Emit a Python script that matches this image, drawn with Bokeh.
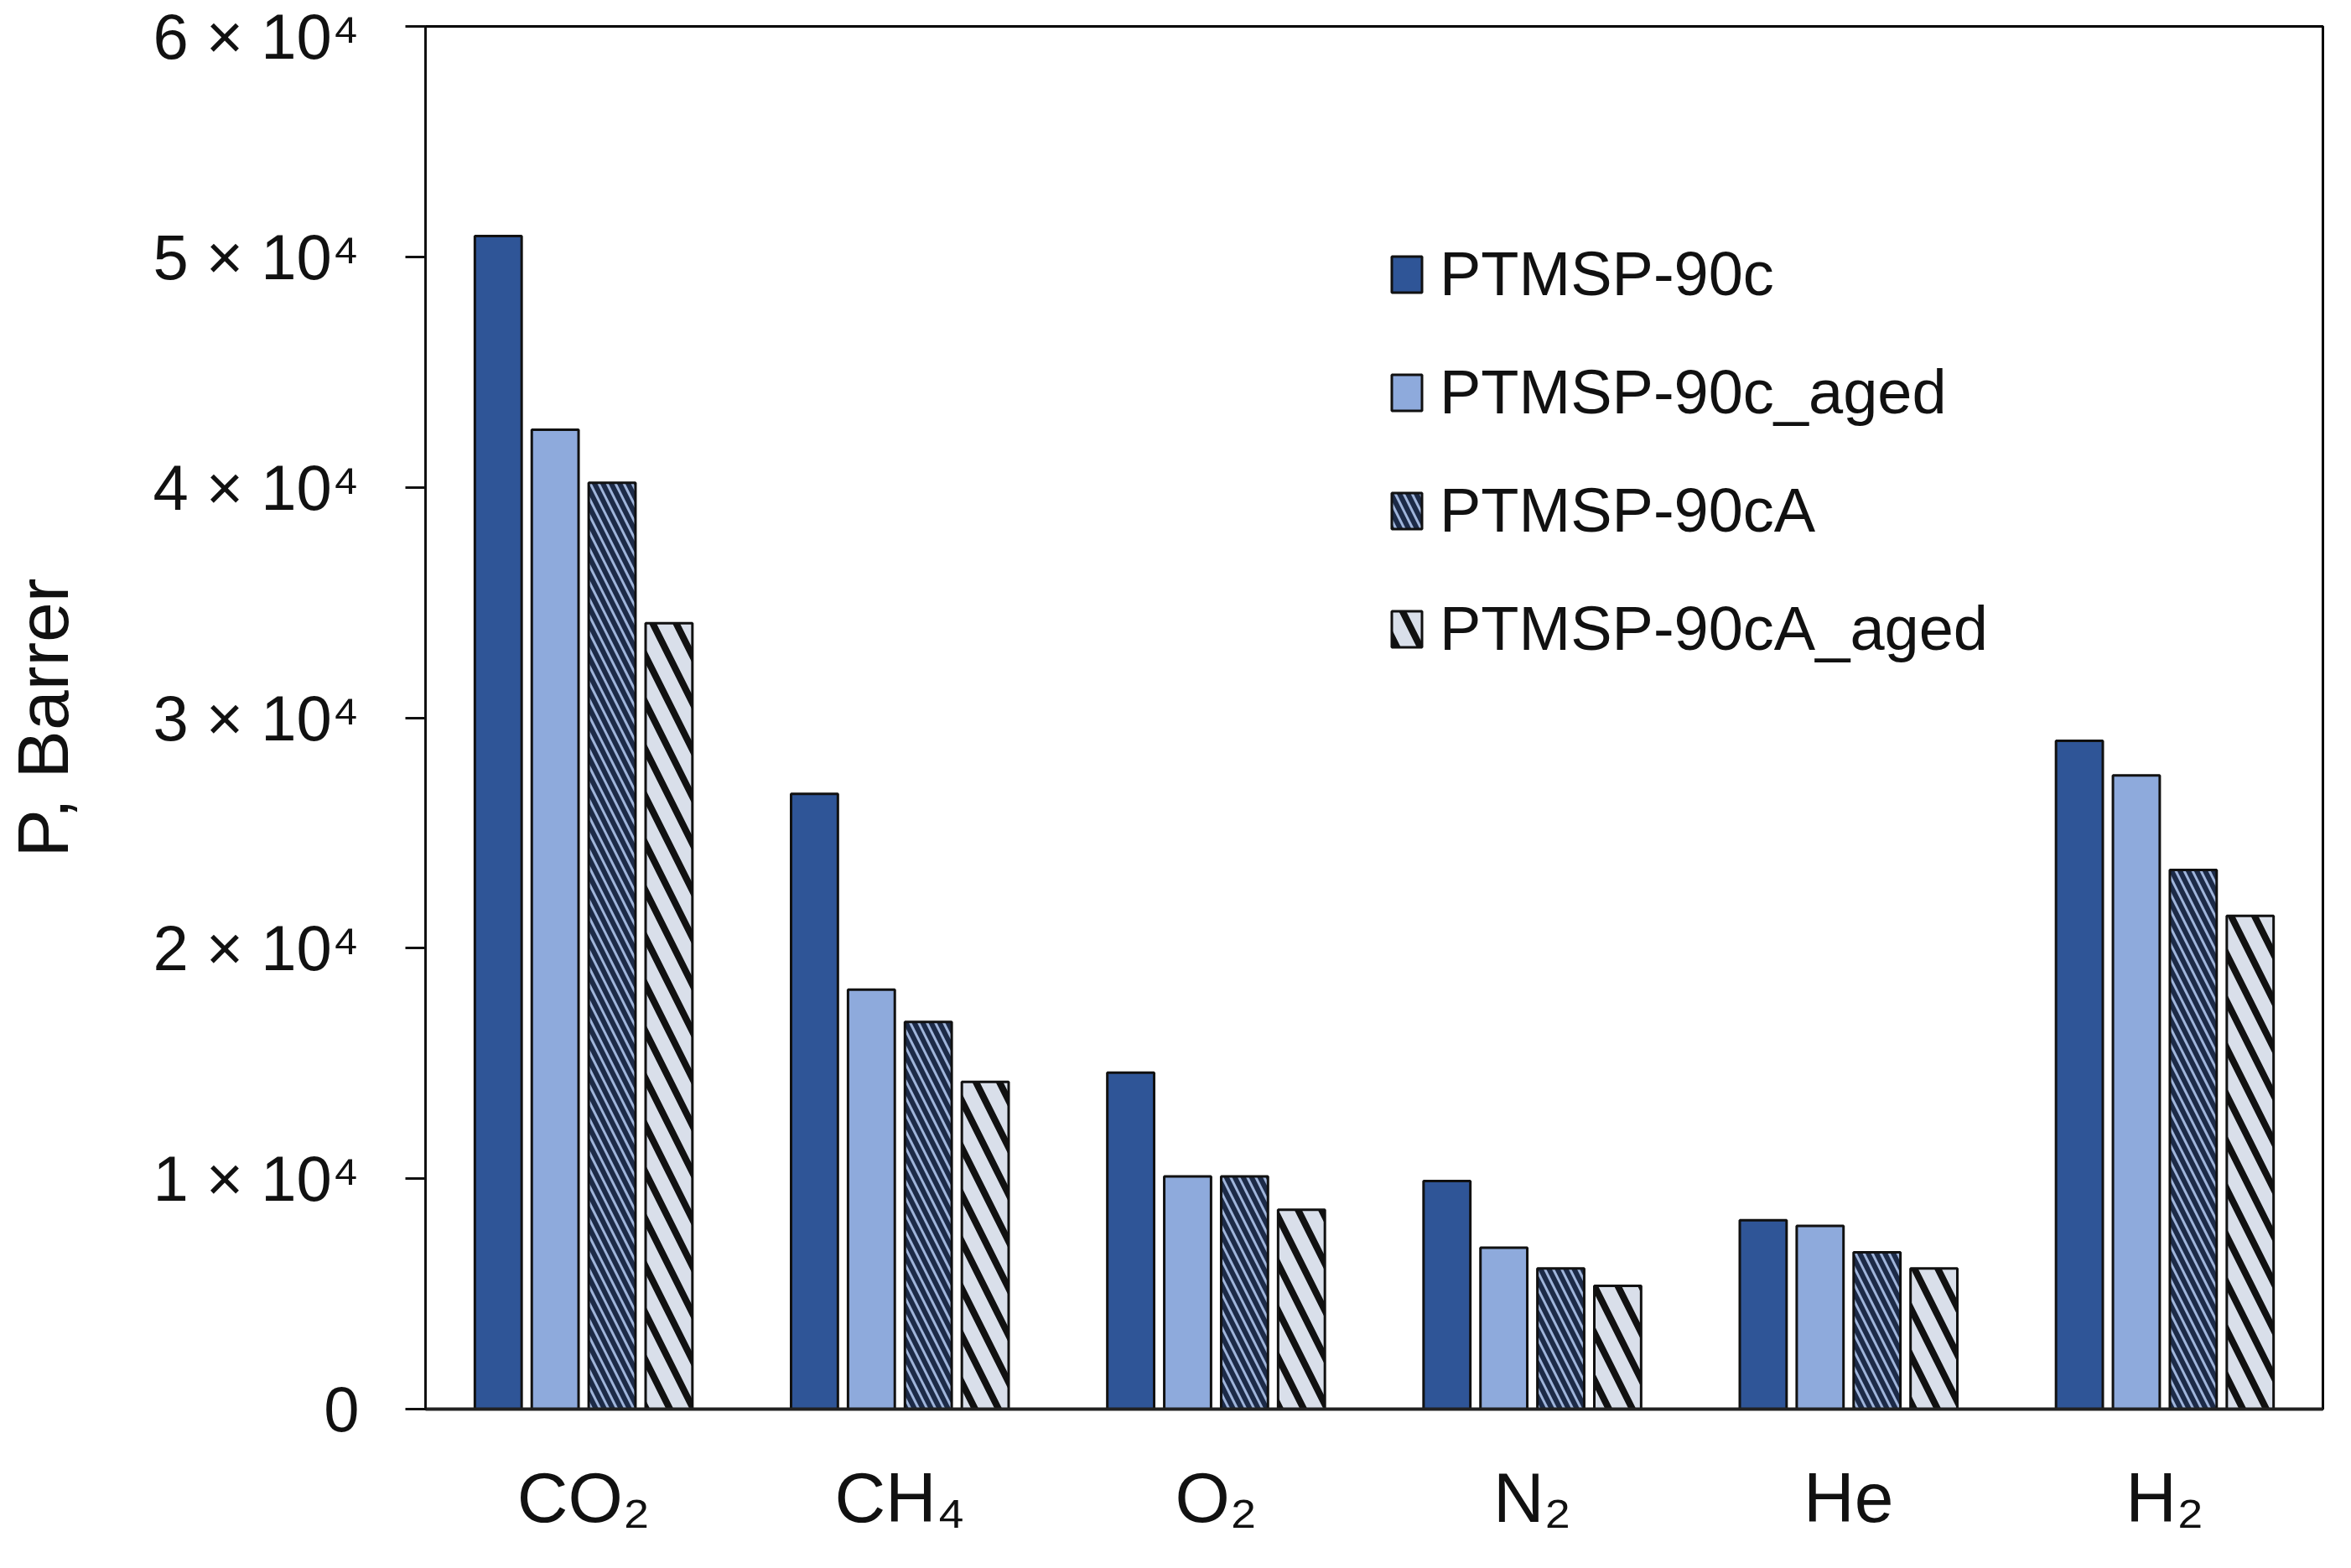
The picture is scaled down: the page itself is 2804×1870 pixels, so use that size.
from bokeh.plotting import figure
from bokeh.models import ColumnDataSource, FactorRange, Range1d, FixedTicker, Legend
from bokeh.transform import dodge
from bokeh.embed import file_html
from bokeh.resources import INLINE

gases = ["CO₂", "CH₄", "O₂", "N₂", "He", "H₂"]
series_names = ["PTMSP-90c", "PTMSP-90c_aged", "PTMSP-90cA", "PTMSP-90cA_aged"]
ptmsp_90c = [50900, 26700, 14600, 9900, 8200, 29000]
ptmsp_90c_aged = [42500, 18200, 10100, 7000, 7950, 27500]
ptmsp_90cA = [40200, 16800, 10100, 6100, 6800, 23400]
ptmsp_90cA_aged = [34100, 14200, 8650, 5350, 6100, 21400]
y_ticks = [0, 10000, 20000, 30000, 40000, 50000, 60000]
y_tick_labels = ["0", "1 × 10⁴", "2 × 10⁴", "3 × 10⁴", "4 × 10⁴", "5 × 10⁴", "6 × 10⁴"]

source = ColumnDataSource(data=dict(
    gas=gases,
    s0=ptmsp_90c,
    s1=ptmsp_90c_aged,
    s2=ptmsp_90cA,
    s3=ptmsp_90cA_aged,
))

FONT = "Liberation Sans, Arial, sans-serif"

p = figure(
    width=2788, height=1854,
    x_range=FactorRange(factors=gases),
    y_range=Range1d(0, 60000),
    output_backend="svg", toolbar_location=None,
    min_border_left=502, min_border_right=18, min_border_top=31, min_border_bottom=174,
)
p.xgrid.visible = False
p.ygrid.visible = False
p.outline_line_color = "black"
p.outline_line_width = 3
p.background_fill_color = "white"
p.border_fill_color = "white"

styles = [
    dict(fill_color="#2F5597"),
    dict(fill_color="#8EAADC"),
    dict(fill_color="#1C2A47", hatch_pattern="\\", hatch_color="#9FB4DA", hatch_scale=20, hatch_weight=3),
    dict(fill_color="#D9DFEA", hatch_pattern="\\", hatch_color="#111111", hatch_scale=56, hatch_weight=8),
]
offsets = [-0.27, -0.09, 0.09, 0.27]
cols = ["s0", "s1", "s2", "s3"]

items = []
for col, off, st, name in zip(cols, offsets, styles, series_names):
    r = p.vbar(x=dodge("gas", off, range=p.x_range), top=col, width=0.148, source=source,
               line_color="#111111", line_width=3, **st)
    items.append((name, [r]))

legend = Legend(items=items, location=(1148, 888))
legend.label_text_font = FONT
legend.label_text_font_size = "74px"
legend.label_text_color = "#111111"
legend.glyph_width = 45
legend.glyph_height = 54
legend.label_height = 80
legend.label_standoff = 17
legend.spacing = 56
legend.padding = 0
legend.margin = 0
legend.border_line_color = None
legend.background_fill_alpha = 0
p.add_layout(legend, "center")

# y axis
p.yaxis.ticker = FixedTicker(ticks=y_ticks)
p.yaxis.major_label_overrides = {t: l for t, l in zip(y_ticks, y_tick_labels)}
p.yaxis.major_label_text_font = FONT
p.yaxis.major_label_text_font_size = "76px"
p.yaxis.major_label_text_color = "#111111"
p.yaxis.axis_line_width = 3
p.yaxis.axis_line_color = "#111111"
p.yaxis.major_tick_line_width = 3
p.yaxis.major_tick_line_color = "#111111"
p.yaxis.major_tick_out = 24
p.yaxis.major_tick_in = 0
p.yaxis.minor_tick_line_color = None
p.yaxis.major_label_standoff = 55
p.yaxis.axis_label = "P, Barrer"
p.yaxis.axis_label_text_font = FONT
p.yaxis.axis_label_text_font_size = "86px"
p.yaxis.axis_label_text_font_style = "normal"
p.yaxis.axis_label_text_color = "#111111"
p.yaxis.axis_label_standoff = 80

# x axis
p.xaxis.axis_line_width = 4
p.xaxis.axis_line_color = "#222222"
p.xaxis.major_tick_line_color = None
p.xaxis.minor_tick_line_color = None
p.xaxis.major_label_text_font = FONT
p.xaxis.major_label_text_font_size = "84px"
p.xaxis.major_label_text_color = "#111111"
p.xaxis.major_label_standoff = 52

open("out.html", "w").write(file_html(p, INLINE))
